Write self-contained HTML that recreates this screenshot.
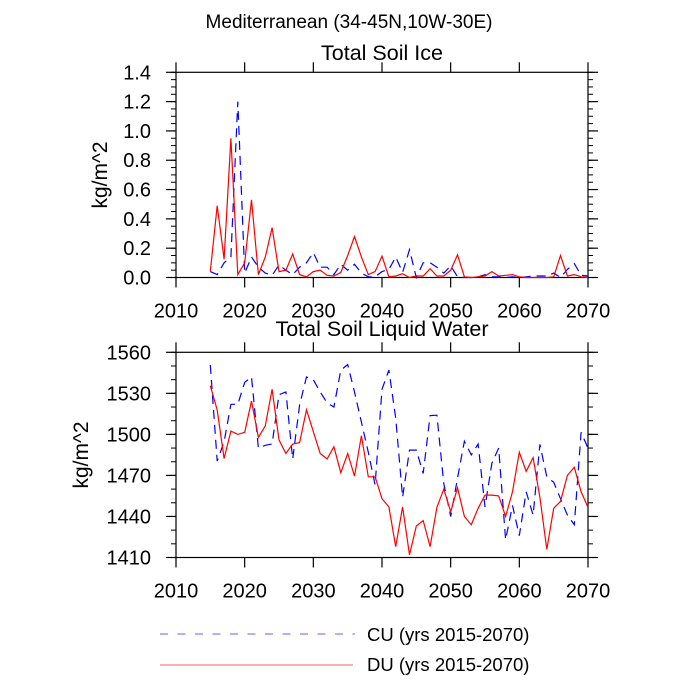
<!DOCTYPE html>
<html><head><meta charset="utf-8"><style>
html,body{margin:0;padding:0;background:#fff;}
svg{display:block;font-family:"Liberation Sans",sans-serif;}
</style></head><body>
<svg id="c" width="700" height="700" viewBox="0 0 700 700">
<text x="349" y="28" font-size="19" text-anchor="middle">Mediterranean (34-45N,10W-30E)</text>
<text x="382" y="60" font-size="21.5" text-anchor="middle">Total Soil Ice</text>
<text x="382" y="336" font-size="21.5" text-anchor="middle">Total Soil Liquid Water</text>
<text transform="translate(107,175) rotate(-90)" font-size="21" text-anchor="middle">kg/m^2</text>
<text transform="translate(88,455) rotate(-90)" font-size="21" text-anchor="middle">kg/m^2</text>
<g>
<line x1="160" y1="634" x2="355" y2="634" stroke="#6060ff" stroke-width="1" stroke-dasharray="8,9.5"/>
<text x="367" y="641" font-size="18.5">CU (yrs 2015-2070)</text>
<line x1="160" y1="665" x2="353" y2="665" stroke="#f06060" stroke-width="1"/>
<text x="367" y="671" font-size="18.5">DU (yrs 2015-2070)</text>
</g>
</svg>
<script>
const years = [];
for (let y = 2015; y <= 2070; y++) years.push(y);
const iceCU = [0.04,0.02,0.1,0.14,1.2,0.03,0.14,0.07,0.03,0.015,0.085,0.05,0.02,0.07,0.1,0.17,0.07,0.07,0.02,0.09,0.05,0.09,0.03,0.005,0.005,0.04,0.055,0.14,0.035,0.19,0,0.1,0.1,0.07,0.03,0.08,0.005,0,0,0.005,0.02,0.005,0.005,0,0.005,0,0.005,0.01,0.01,0.01,0.03,0,0.055,0.095,0.015,0.01];
const iceDU = [0.04,0.49,0.125,0.95,0.02,0.1,0.53,0.02,0.14,0.34,0.04,0.05,0.16,0.02,0.005,0.04,0.05,0.015,0.01,0.035,0.15,0.28,0.14,0.02,0.04,0.145,0.005,0.01,0.025,0,0.01,0.01,0.06,0.01,0.01,0.05,0.155,0.005,0,0.005,0.01,0.04,0.01,0.015,0.02,0.005,0,0,0,0,0.005,0.15,0.01,0.02,0.005,0];
const waterCU = [1550.7,1480.5,1494.6,1522,1522,1538,1542,1490,1492,1493,1529,1531,1482,1521.5,1542,1540,1531,1523,1520,1547,1551,1531,1509,1487,1463,1533,1547,1512,1454,1488.5,1488.5,1471.5,1513.7,1514,1464,1440,1468,1495,1485,1493,1447,1479,1490,1423,1448,1426,1458,1441,1492.7,1469,1465,1453,1441,1434,1501.5,1490];
const waterDU = [1535.6,1517.8,1482.4,1502.4,1500,1501.5,1524.4,1497.8,1506.3,1533,1496,1486,1493,1494,1518,1502,1486,1482,1491,1472,1486,1469.5,1499,1469,1469,1453,1447,1418,1447,1412,1433,1437,1418,1446.6,1460,1443.4,1461,1440,1434,1446,1455.6,1455.6,1455,1440,1458,1487,1473,1483,1454,1416,1446,1451,1470,1476,1458,1446.6];
const xTicks = [2010,2020,2030,2040,2050,2060,2070];
const iceTicks = [0,0.2,0.4,0.6,0.8,1.0,1.2,1.4];
const iceMinor = 0.05;
const waterTicks = [1410,1440,1470,1500,1530,1560];
const waterMinor = 10;

const svg = document.getElementById('c');
const NS = 'http://www.w3.org/2000/svg';
function mk(tag, attrs, parent) {
  const e = document.createElementNS(NS, tag);
  for (const k in attrs) e.setAttribute(k, attrs[k]);
  (parent || svg).appendChild(e);
  return e;
}
const L = 176, R = 588;
const xScale = v => L + (v - 2010) / 60 * (R - L);

function panel(name, top, bottom, yMin, yMax, ticks, minor, fmt, cu, du) {
  const g = mk('g', {});
  
  
  const yScale = v => bottom - (v - yMin) / (yMax - yMin) * (bottom - top);
  const frame = mk('rect', {x: L, y: top, width: R - L, height: bottom - top, fill: 'none', stroke: '#000', 'stroke-width': 1.2}, g);
  
  
  xTicks.forEach(t => {
    const x = xScale(t);
    mk('line', {x1: x, y1: bottom, x2: x, y2: bottom + 10, stroke: '#000', 'stroke-width': 1.2}, g);
    mk('line', {x1: x, y1: top, x2: x, y2: top - 10, stroke: '#000', 'stroke-width': 1.2}, g);
    const tx = mk('text', {x: x, y: bottom + 40, 'font-size': 20, 'text-anchor': 'middle'}, g);
    
    
    tx.textContent = t;
  });
  for (let v = yMin; v <= yMax + 1e-9; v += minor) {
    const y = yScale(v);
    mk('line', {x1: L, y1: y, x2: L - 5, y2: y, stroke: '#000', 'stroke-width': 1}, g);
    mk('line', {x1: R, y1: y, x2: R + 5, y2: y, stroke: '#000', 'stroke-width': 1}, g);
  }
  ticks.forEach(t => {
    const y = yScale(t);
    mk('line', {x1: L, y1: y, x2: L - 10, y2: y, stroke: '#000', 'stroke-width': 1.2}, g);
    mk('line', {x1: R, y1: y, x2: R + 10, y2: y, stroke: '#000', 'stroke-width': 1.2}, g);
    const tx = mk('text', {x: 151, y: y + 7, 'font-size': 20, 'text-anchor': 'end'}, g);
    
    
    tx.textContent = fmt(t);
  });
  const pts = arr => arr.map((v, i) => xScale(years[i]).toFixed(1) + ',' + yScale(v).toFixed(1)).join(' ');
  const lc = mk('polyline', {points: pts(cu), fill: 'none', stroke: '#00f', 'stroke-width': 1.2, 'stroke-dasharray': '9,6'}, g);
  
  
  const ld = mk('polyline', {points: pts(du), fill: 'none', stroke: '#f00', 'stroke-width': 1.2}, g);
  
  
}
panel('ice', 72.3, 277.5, 0, 1.4, iceTicks, iceMinor, v => v.toFixed(1), iceCU, iceDU);
panel('water', 352.3, 557.5, 1410, 1560, waterTicks, waterMinor, v => String(v), waterCU, waterDU);
</script>
</body></html>
